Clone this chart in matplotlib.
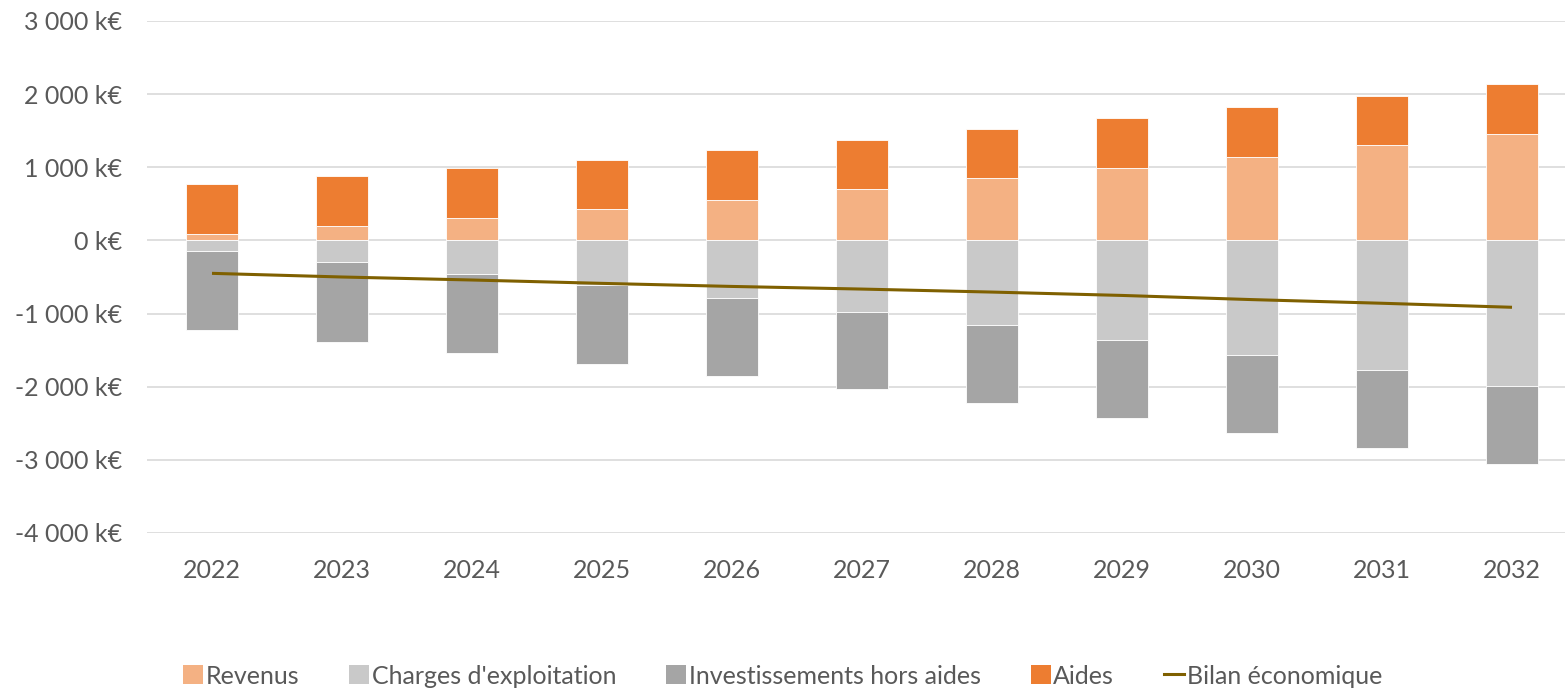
import numpy as np
import matplotlib.pyplot as plt
from matplotlib.patches import Patch
from matplotlib.lines import Line2D

years = ["2022", "2023", "2024", "2025", "2026", "2027", "2028", "2029", "2030", "2031", "2032"]

# k€ per year
revenus = [82, 191, 300, 428, 556, 702, 847, 993, 1145, 1305, 1459]
aides = [695, 691, 695, 675, 674, 669, 675, 679, 673, 672, 677]
charges = [150, 300, 459, 615, 788, 975, 1162, 1358, 1564, 1773, 1991]
investissements = [1077, 1082, 1077, 1075, 1071, 1061, 1066, 1066, 1063, 1063, 1059]
bilan = [-450, -500, -541, -587, -629, -665, -706, -752, -809, -859, -914]

c_rev = "#F4B183"
c_chg = "#C9C9C9"
c_inv = "#A5A5A5"
c_aid = "#ED7D31"
c_bil = "#7F6000"
txt = "#595959"

plt.rcParams["font.family"] = ["Lato", "DejaVu Sans"]

fig = plt.figure(figsize=(15.65, 6.91), dpi=100)
ax = fig.add_axes([147 / 1565, 1 - 533 / 691, (1565 - 147) / 1565, (533 - 21) / 691])

x = np.arange(len(years))
w = 0.4
rev = np.array(revenus)
chg = -np.array(charges)
inv = -np.array(investissements)

kw = dict(width=w, edgecolor="white", linewidth=0.6, zorder=3)
ax.bar(x, rev, color=c_rev, **kw)
ax.bar(x, aides, bottom=rev, color=c_aid, **kw)
ax.bar(x, chg, color=c_chg, **kw)
ax.bar(x, inv, bottom=chg, color=c_inv, **kw)
ax.plot(x, bilan, color=c_bil, lw=2.2, zorder=4, solid_capstyle="butt")

ax.set_ylim(-4000, 3000)
ax.set_xlim(-0.5, -0.5 + (1565 - 147) / 130)
ax.set_yticks(np.arange(-4000, 3001, 1000))
ax.set_yticklabels([f"{v:,.0f}".replace(",", " ") + " k€" for v in range(-4000, 3001, 1000)])
ax.set_xticks(x)
ax.set_xticklabels(years)
ax.tick_params(axis="both", length=0, labelsize=18, labelcolor=txt)
ax.tick_params(axis="y", pad=18)
ax.tick_params(axis="x", pad=19)
ax.grid(axis="y", color="#D9D9D9", lw=1.2, zorder=0)
for s in ax.spines.values():
    s.set_visible(False)

handles = [
    Patch(facecolor=c_rev, label="Revenus"),
    Patch(facecolor=c_chg, label="Charges d'exploitation"),
    Patch(facecolor=c_inv, label="Investissements hors aides"),
    Patch(facecolor=c_aid, label="Aides"),
    Line2D([0], [0], color=c_bil, lw=2.2, label="Bilan économique"),
]
leg = fig.legend(handles=handles, loc="center", bbox_to_anchor=(0.5, 1 - 676 / 691),
                 ncol=5, frameon=False, fontsize=18, handlelength=0.8, handleheight=0.8,
                 handletextpad=0.1, columnspacing=2.0)
for t in leg.get_texts():
    t.set_color(txt)

fig.savefig("out.png", dpi=100)
